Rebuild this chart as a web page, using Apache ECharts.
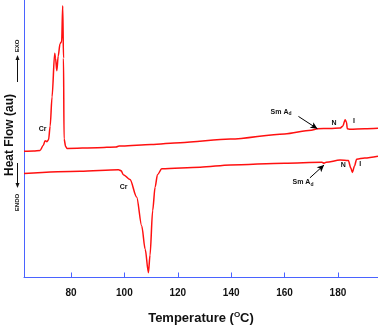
<!DOCTYPE html>
<html>
<head>
<meta charset="utf-8">
<script src="https://cdn.jsdelivr.net/npm/echarts@6/dist/echarts.min.js"></script>
<style>
  html, body { margin: 0; padding: 0; background: #fff; }
  #main { width: 378px; height: 330px; }
</style>
</head>
<body>
<div id="main"></div>
<script>
// DSC trace, temperature (°C) vs heat flow (au)
var upperT = [62.4, 66, 68.4, 69.6, 70.3, 71.0, 71.6, 72.2, 72.9, 73.9, 74.2, 74.7, 75.2, 75.9, 76.5, 76.9, 77.2, 77.4, 78.0, 78.5, 90, 96.9, 98.0, 99.2, 110, 120.9, 139.7, 160, 170, 172.3, 177, 180.8, 181.8, 182.7, 183.2, 183.5, 184.5, 190, 195];
var upperH = [130, 130.5, 131, 136, 141, 140, 142, 156, 186, 231, 226, 213, 228, 241, 243, 280, 226, 143, 135, 133, 133.8, 134.5, 135.5, 135.5, 137, 139, 142.7, 148, 151.8, 153.3, 153.6, 154, 156, 162.7, 160, 153.3, 152.8, 153.3, 153.8];
var lowerT = [62.4, 83.4, 97.8, 98.8, 99.6, 102.1, 104.6, 106.5, 107.8, 109.0, 109.6, 110.6, 111.5, 112.4, 114.0, 128.4, 139.7, 160, 174.0, 174.8, 175.6, 180.8, 183.9, 184.8, 185.4, 186.2, 187.0, 190, 195];
var lowerH = [107.3, 109.5, 111, 110, 106, 101, 83, 53, 29, 5, 23, 69, 93, 106, 112, 113.7, 116, 117.8, 118.7, 117.8, 118.8, 121, 120.5, 113, 108.3, 115, 122, 123.2, 125];
var tickLabels = [80, 100, 120, 140, 160, 180];

// annotations: [T, h]
var upperNotes = [
  { name: 'Cr', at: [69.4, 153] },
  { name: 'Sm A', sub: 'd', at: [158.7, 171] },
  { name: 'N', at: [178.5, 159] },
  { name: 'I', at: [186.0, 161] }
];
var lowerNotes = [
  { name: 'Cr', at: [99.7, 93] },
  { name: 'Sm A', sub: 'd', at: [166.9, 98] },
  { name: 'N', at: [182.0, 116] },
  { name: 'I', at: [188.3, 117] }
];
var upperArrow = [[165.2, 166], [172.3, 153.3]];
var lowerArrow = [[169.5, 102.7], [174.8, 116]];

var axisBlue = '#4a63ff';

function pairs(xs, ys) {
  var out = [];
  for (var i = 0; i < xs.length; i++) out.push([xs[i], ys[i]]);
  return out;
}

function notePoints(list) {
  return list.map(function (n) {
    return {
      coord: n.at,
      label: {
        formatter: n.sub ? '{a|' + n.name + '}{s|' + n.sub + '}' : '{a|' + n.name + '}'
      }
    };
  });
}

var noteLabel = {
  show: true,
  position: 'inside',
  color: '#111',
  rich: {
    a: { fontSize: 7, fontWeight: 'bold', fontFamily: 'Liberation Sans, Arial', color: '#111' },
    s: { fontSize: 5, fontWeight: 'bold', fontFamily: 'Liberation Sans, Arial', color: '#111', padding: [5, 0, 0, 0] }
  }
};

function series(xs, ys, notes, arrow) {
  return {
    type: 'line',
    data: pairs(xs, ys),
    showSymbol: false,
    symbol: 'none',
    smooth: 0.3,
    smoothMonotone: 'x',
    lineStyle: { color: '#ff1010', width: 1.5 },
    animation: false,
    markPoint: {
      symbol: 'circle',
      symbolSize: 0,
      label: noteLabel,
      data: notePoints(notes)
    },
    markLine: {
      silent: true,
      symbol: ['none', 'arrow'],
      symbolSize: [5, 7],
      lineStyle: { color: '#000', width: 1, type: 'solid' },
      label: { show: false },
      data: [[{ coord: arrow[0] }, { coord: arrow[1] }]]
    }
  };
}

var chart = echarts.init(document.getElementById('main'));
chart.setOption({
  animation: false,
  grid: { left: 24, right: 0, top: 0, bottom: 44 },
  xAxis: {
    type: 'value',
    min: 62.4,
    max: 195,
    name: '{t|Temperature (}{o|O}{t|C)}',
    nameLocation: 'middle',
    nameGap: 33,
    nameTextStyle: {
      rich: {
        t: { fontSize: 13, fontWeight: 'bold', fontFamily: 'Liberation Sans, Arial', color: '#111' },
        o: { fontSize: 8, fontWeight: 'bold', fontFamily: 'Liberation Sans, Arial', color: '#111', padding: [0, 0, 8, 0] }
      }
    },
    axisLine: { show: true, lineStyle: { color: axisBlue, width: 1 } },
    axisTick: { show: true, inside: true, length: 5, customValues: tickLabels, lineStyle: { color: axisBlue } },
    axisLabel: {
      customValues: tickLabels,
      margin: 11,
      fontSize: 10,
      fontWeight: 'bold',
      fontFamily: 'Liberation Sans, Arial',
      color: '#111'
    },
    splitLine: { show: false }
  },
  yAxis: {
    type: 'value',
    min: 0,
    max: 286,
    axisLine: { show: true, lineStyle: { color: axisBlue, width: 1 } },
    axisTick: { show: false },
    axisLabel: { show: false },
    splitLine: { show: false }
  },
  graphic: [
    {
      type: 'text', x: 10, y: 135, rotation: Math.PI / 2,
      style: { text: 'Heat Flow (au)', fill: '#111', font: 'bold 12px "Liberation Sans", Arial', align: 'center', verticalAlign: 'middle' }
    },
    {
      type: 'text', x: 17.5, y: 46, rotation: Math.PI / 2,
      style: { text: 'EXO', fill: '#111', font: 'bold 6px "Liberation Sans", Arial', align: 'center', verticalAlign: 'middle' }
    },
    { type: 'line', shape: { x1: 17.5, y1: 82, x2: 17.5, y2: 58 }, style: { stroke: '#111', lineWidth: 1 } },
    { type: 'polygon', shape: { points: [[17.5, 55], [15.5, 60], [19.5, 60]] }, style: { fill: '#111' } },
    {
      type: 'text', x: 17.5, y: 202.5, rotation: Math.PI / 2,
      style: { text: 'ENDO', fill: '#111', font: 'bold 6px "Liberation Sans", Arial', align: 'center', verticalAlign: 'middle' }
    },
    { type: 'line', shape: { x1: 17.5, y1: 163, x2: 17.5, y2: 185 }, style: { stroke: '#111', lineWidth: 1 } },
    { type: 'polygon', shape: { points: [[17.5, 188], [15.5, 183], [19.5, 183]] }, style: { fill: '#111' } }
  ],
  series: [
    series(upperT, upperH, upperNotes, upperArrow),
    series(lowerT, lowerH, lowerNotes, lowerArrow)
  ]
});
</script>
</body>
</html>
